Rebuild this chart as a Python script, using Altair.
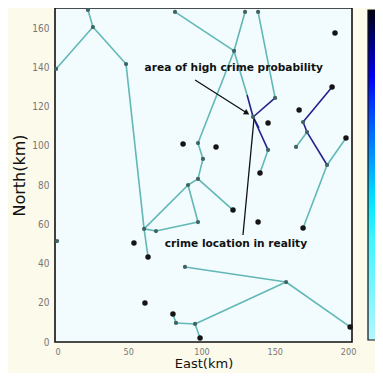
import altair as alt
import pandas as pd

# ---- data (East km, North km) ----
seg_x1 = [22.5, 25.9, 25.9, 48.5, 60.8, 60.8, 60.8, 68.9, 90.8, 90.8, 97.6, 97.6, 101.0, 97.6, 122.2, 122.2, 138.6, 122.2, 145.4,
          198.6, 185.7, 172.0, 88.7, 157.7, 157.7, 95.6, 95.6, 80.5,
          131.1, 135.2, 135.2, 135.2, 189.1, 169.3, 172.0]
seg_y1 = [169.4, 160.7, 160.7, 141.8, 57.7, 57.7, 57.7, 56.6, 80.1, 80.1, 83.2, 83.2, 93.4, 101.5, 148.5, 148.5, 168.4, 148.5, 98.0,
          104.1, 90.3, 107.1, 38.3, 30.6, 30.6, 9.2, 9.2, 14.3,
          126.0, 114.8, 114.8, 114.8, 130.1, 112.2, 107.1]
seg_x2 = [25.9, 48.5, 0.7, 60.8, 63.5, 68.9, 90.8, 97.6, 97.6, 97.6, 121.5, 101.0, 97.6, 122.2, 81.9, 129.7, 150.2, 131.1, 139.9,
          185.7, 169.3, 164.5, 157.7, 201.4, 95.6, 82.6, 99.0, 82.6,
          135.2, 150.2, 145.4, 139.2, 169.3, 172.0, 185.7]
seg_y2 = [160.7, 141.8, 139.3, 57.7, 43.4, 56.6, 80.1, 61.2, 83.2, 61.2, 67.3, 93.4, 101.5, 148.5, 168.4, 168.4, 124.5, 126.0, 86.2,
          90.3, 58.2, 99.5, 30.6, 7.7, 9.2, 9.7, 2.0, 9.7,
          114.8, 124.5, 98.0, 109.2, 112.2, 107.1, 90.3]
seg_level = ["low"] * 28 + ["high"] * 7

node_x = [22.5, 25.9, 48.5, 0.7, 60.8, 68.9, 90.8, 97.6, 97.6, 101.0, 97.6, 122.2, 81.9, 129.7, 138.6, 150.2, 135.2, 145.4,
          169.3, 172.0, 164.5, 185.7, 88.7, 157.7, 95.6, 82.6, 1.4]
node_y = [169.4, 160.7, 141.8, 139.3, 57.7, 56.6, 80.1, 61.2, 83.2, 93.4, 101.5, 148.5, 168.4, 168.4, 168.4, 124.5, 114.8, 98.0,
          112.2, 107.1, 99.5, 90.3, 38.3, 30.6, 9.2, 9.7, 51.5]

dot_x = [63.5, 121.5, 139.9, 53.9, 61.4, 87.4, 109.9, 145.4, 191.1, 138.6, 166.6, 189.1, 198.6, 169.3, 201.4, 99.0, 80.5]
dot_y = [43.4, 67.3, 86.2, 50.5, 19.9, 101.0, 99.5, 111.7, 157.7, 61.2, 118.4, 130.1, 104.1, 58.2, 7.7, 2.0, 14.3]

labels = ["area of high crime probability", "crime location in reality"]
label_x = [122.0, 123.5]
label_y = [140.0, 50.0]

arrow_x1, arrow_y1, arrow_x2, arrow_y2 = [95.6, 128.3], [133.7, 54.6], [131.0, 135.8], [116.8, 113.8]

prob = [0.0, 1.0]

segs = pd.DataFrame({"x": seg_x1, "y": seg_y1, "x2": seg_x2, "y2": seg_y2, "level": seg_level})
nodes = pd.DataFrame({"x": node_x, "y": node_y})
dots = pd.DataFrame({"x": dot_x, "y": dot_y})
texts = pd.DataFrame({"x": label_x, "y": label_y, "t": labels})
arrows = pd.DataFrame({"x": arrow_x1, "y": arrow_y1, "x2": arrow_x2, "y2": arrow_y2})
heads = pd.DataFrame({"x": arrow_x2[:1], "y": arrow_y2[:1]})
pdf = pd.DataFrame({"x": [100.0, 100.0], "y": [80.0, 80.0], "p": prob})

narrow = "Liberation Sans Narrow, DejaVu Sans Condensed, sans-serif"
xs = alt.Scale(domain=[0, 202.7], nice=False, zero=False)
ys = alt.Scale(domain=[0, 170.4], nice=False, zero=False)
xax = alt.Axis(values=[0, 50, 100, 150, 200], title="East(km)", grid=False, ticks=False, domain=False,
               labelColor="#777777", labelFontSize=9, labelPadding=5, titleFontSize=13, titleFontWeight="normal",
               titleColor="#111111", titlePadding=1, labelFont=narrow, titleFont="DejaVu Sans")
yax = alt.Axis(values=[0, 20, 40, 60, 80, 100, 120, 140, 160], title="North(km)", grid=False, ticks=False, domain=False,
               labelColor="#777777", labelFontSize=10, labelPadding=6, titleFontSize=16, titleFontWeight="normal",
               titleColor="#111111", titlePadding=4, labelFont=narrow, titleFont="DejaVu Sans")

lines = alt.Chart(segs).mark_rule(strokeWidth=1.6).encode(
    x=alt.X("x:Q", scale=xs, axis=xax), y=alt.Y("y:Q", scale=ys, axis=yax),
    x2="x2:Q", y2="y2:Q",
    stroke=alt.Stroke("level:N", scale=alt.Scale(domain=["low", "high"], range=["#62b7b7", "#22228a"]), legend=None),
)
node_pts = alt.Chart(nodes).mark_point(filled=True, size=18, color="#3f6464", opacity=1).encode(x="x:Q", y="y:Q")
dot_pts = alt.Chart(dots).mark_point(filled=True, size=30, color="#151515", opacity=1).encode(x="x:Q", y="y:Q")
arrow_lines = alt.Chart(arrows).mark_rule(strokeWidth=1.3, color="#111111").encode(x="x:Q", y="y:Q", x2="x2:Q", y2="y2:Q")
arrow_heads = alt.Chart(heads).mark_point(shape="triangle-right", filled=True, size=40, color="#111111", opacity=1,
                                          angle=32).encode(x="x:Q", y="y:Q")
text = alt.Chart(texts).mark_text(fontSize=10.6, fontWeight="bold", font="DejaVu Sans", color="#111111",
                                  align="center", baseline="middle").encode(x="x:Q", y="y:Q", text="t:N")
bar = alt.Chart(pdf).mark_point(opacity=0).encode(
    x="x:Q", y="y:Q",
    fill=alt.Fill("p:Q", scale=alt.Scale(domain=[0, 0.3, 0.42, 0.7, 0.8, 0.92, 1.0],
                                         range=["#b4f6ff", "#40f4ff", "#00e8ff", "#0040ff", "#0000f0", "#00006a", "#000010"],
                                         interpolate="rgb"),
                  legend=alt.Legend(orient="none", legendX=313, legendY=2, gradientLength=330, gradientThickness=20,
                                    direction="vertical", title=None, labelExpr="''", labelFontSize=1, padding=0,
                                    gradientStrokeColor="#111111", gradientStrokeWidth=1.2)),
)

chart = alt.layer(lines, arrow_lines, arrow_heads, node_pts, dot_pts, text, bar).properties(
    width=297, height=334,
    autosize=alt.AutoSizeParams(type="none"),
    padding={"left": 47, "top": 0, "right": 23, "bottom": 31},
    background="#fcfaea",
).configure_view(fill="#f2fcfe", stroke="#111111", strokeWidth=1.6)

chart.save("out.html", embed_options={"renderer": "svg", "actions": False})
